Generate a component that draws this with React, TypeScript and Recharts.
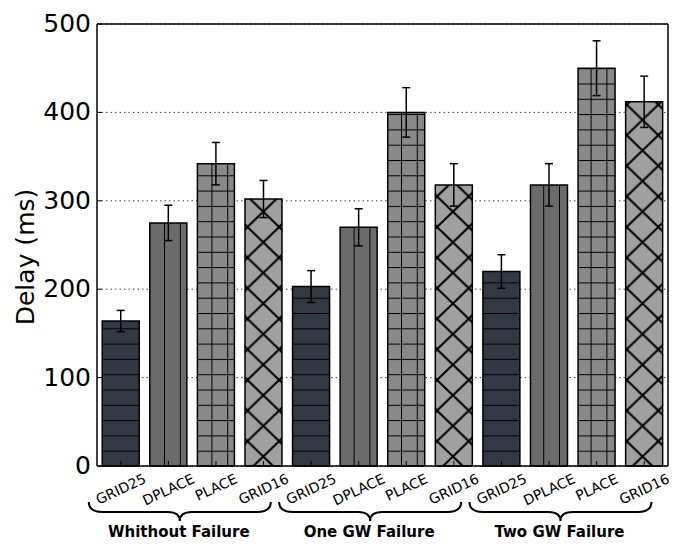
import { BarChart, Bar, XAxis, YAxis, CartesianGrid, ErrorBar, Cell } from "recharts";

const groupLabels = ["Whithout Failure", "One GW Failure", "Two GW Failure"];
const methods = ["GRID25", "DPLACE", "PLACE", "GRID16"];
const delayMean = [164, 275, 342, 302, 203, 270, 400, 318, 220, 318, 450, 412];
const delayErr = [12, 20, 24, 21, 18, 21, 28, 24, 19, 24, 31, 29];
const yTicks = [0, 100, 200, 300, 400, 500];

const fills = ["url(#hHoriz)", "url(#hVert)", "url(#hGrid)", "url(#hCross)"];

const data = delayMean.map((v, i) => ({
  key: `${groupLabels[Math.floor(i / 4)]}-${methods[i % 4]}`,
  method: methods[i % 4],
  delay: v,
  err: delayErr[i],
}));

const W = 680;
const H = 548;
const M = { top: 24, right: 12, left: 0, bottom: 0 };
const PLOT_LEFT = 97;
const PLOT_BOTTOM = 466;
const FONT = "DejaVu Sans";

let ctx: CanvasRenderingContext2D | null = null;
function textWidth(s: string, font: string) {
  if (!ctx) ctx = document.createElement("canvas").getContext("2d");
  if (!ctx) return s.length * 8;
  ctx.font = font;
  return ctx.measureText(s).width;
}

function XTick(props: any) {
  const { x, y, index } = props;
  const label = data[index].method;
  const fs = 14;
  const ang = (25 * Math.PI) / 180;
  const w = textWidth(label, `${fs}px "${FONT}"`);
  const cap = 0.73 * fs;
  const cy = 473 + (w * Math.sin(ang) + cap * Math.cos(ang)) / 2;
  const braces = [];
  if (index % 4 === 0) {
    const x1 = x - 32;
    const x2 = x + 150;
    const mid = x + 59;
    const d = `M${x1},502 Q${x1},512 ${x1 + 14},512 L${mid - 12},512 Q${mid},512 ${mid},521 Q${mid},512 ${mid + 12},512 L${x2 - 14},512 Q${x2},512 ${x2},502`;
    braces.push(
      <path key="b" d={d} fill="none" stroke="#000" strokeWidth={2} />,
      <text
        key="g"
        x={mid - 1}
        y={537}
        textAnchor="middle"
        fontFamily={FONT}
        fontWeight="bold"
        fontSize={15}
        fill="#000"
      >
        {groupLabels[index / 4]}
      </text>
    );
  }
  return (
    <g>
      <line x1={x} y1={y} x2={x} y2={y - 5} stroke="#000" strokeWidth={1} />
      <text
        x={x}
        y={cy + cap / 2}
        textAnchor="middle"
        fontFamily={FONT}
        fontSize={fs}
        fill="#000"
        transform={`rotate(-25, ${x}, ${cy})`}
      >
        {label}
      </text>
      {braces}
    </g>
  );
}

function YTick(props: any) {
  const { x, y, payload } = props;
  return (
    <g>
      <line x1={x} y1={y} x2={x + 5} y2={y} stroke="#000" strokeWidth={1} />
      <text x={x - 6} y={y + 8} textAnchor="end" fontFamily={FONT} fontSize={25} fill="#000">
        {payload.value}
      </text>
    </g>
  );
}

export default function App() {
  return (
    <div style={{ position: "absolute", left: 0, top: 0, width: W, height: H, background: "#fff" }}>
      <BarChart width={W} height={H} data={data} margin={M} barCategoryGap="11%">
        <defs>
          <pattern id="hHoriz" patternUnits="userSpaceOnUse" width={15.8} height={15.3} patternTransform="translate(0,7)">
            <rect width={15.8} height={15.3} fill="#333944" />
            <line x1={0} y1={0} x2={15.8} y2={0} stroke="#000" strokeWidth={2} />
          </pattern>
          <pattern id="hVert" patternUnits="userSpaceOnUse" width={15.8} height={15.3} patternTransform="translate(6,0)">
            <rect width={15.8} height={15.3} fill="#6b6b6b" />
            <line x1={0} y1={0} x2={0} y2={15.3} stroke="#000" strokeWidth={2} />
          </pattern>
          <pattern id="hGrid" patternUnits="userSpaceOnUse" width={15.8} height={15.3} patternTransform="translate(6,7)">
            <rect width={15.8} height={15.3} fill="#898989" />
            <line x1={0} y1={0} x2={0} y2={15.3} stroke="#000" strokeWidth={2} />
            <line x1={0} y1={0} x2={15.8} y2={0} stroke="#000" strokeWidth={2} />
          </pattern>
          <pattern id="hCross" patternUnits="userSpaceOnUse" width={31.6} height={30.6} patternTransform="translate(26.3,12.8)">
            <rect width={31.6} height={30.6} fill="#a0a0a0" />
            <line x1={0} y1={0} x2={31.6} y2={30.6} stroke="#000" strokeWidth={2} />
            <line x1={31.6} y1={0} x2={0} y2={30.6} stroke="#000" strokeWidth={2} />
          </pattern>
        </defs>
        <CartesianGrid vertical={false} stroke="#444" strokeDasharray="1.5 3" />
        <XAxis
          dataKey="key"
          height={H - PLOT_BOTTOM - M.bottom}
          interval={0}
          tickLine={false}
          tickSize={0}
          tickMargin={0}
          tick={<XTick />}
          axisLine={{ stroke: "#000", strokeWidth: 1.5 }}
        />
        <XAxis
          xAxisId="top"
          dataKey="key"
          orientation="top"
          mirror
          interval={0}
          tick={false}
          tickSize={5}
          tickLine={{ stroke: "#000" }}
          axisLine={{ stroke: "#000", strokeWidth: 1.5 }}
        />
        <YAxis
          width={PLOT_LEFT}
          domain={[0, 500]}
          ticks={yTicks}
          tickLine={false}
          tickSize={0}
          tickMargin={0}
          tick={<YTick />}
          axisLine={{ stroke: "#000", strokeWidth: 1.5 }}
          label={{
            content: () => (
              <text
                x={0}
                y={0}
                transform="translate(34,257) rotate(-90)"
                textAnchor="middle"
                fontFamily={FONT}
                fontSize={25}
                fill="#000"
              >
                Delay (ms)
              </text>
            ),
          }}
        />
        <YAxis
          yAxisId="right"
          orientation="right"
          mirror
          domain={[0, 500]}
          ticks={yTicks}
          tick={false}
          tickSize={5}
          tickLine={{ stroke: "#000" }}
          axisLine={{ stroke: "#000", strokeWidth: 1.5 }}
        />
        <Bar dataKey="delay" stroke="#000" strokeWidth={1.5} isAnimationActive={false}>
          {data.map((d, i) => (
            <Cell key={d.key} fill={fills[i % 4]} />
          ))}
          <ErrorBar dataKey="err" width={4} stroke="#000" strokeWidth={1.5} direction="y" isAnimationActive={false} />
        </Bar>
      </BarChart>
    </div>
  );
}
